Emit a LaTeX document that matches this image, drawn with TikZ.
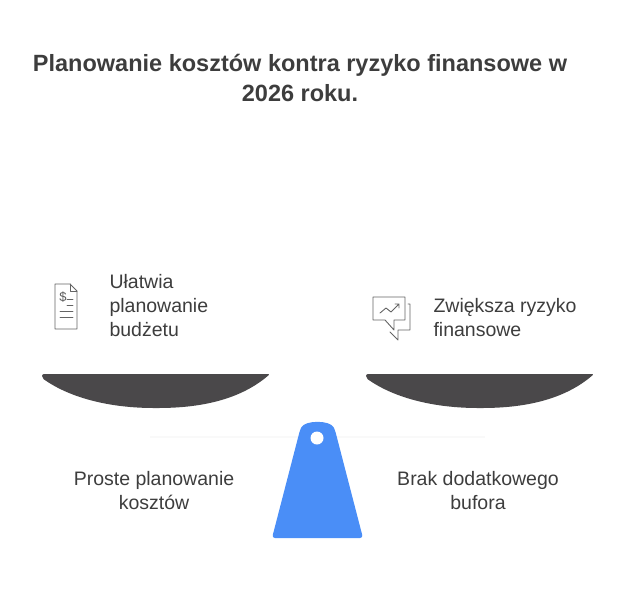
\documentclass[tikz,border=0pt]{standalone}
\usepackage{fontspec}
\setmainfont{Liberation Sans}
\definecolor{tx}{HTML}{3D3D3D}
\definecolor{bowl}{HTML}{4A484A}
\definecolor{blu}{HTML}{4A8EF7}
\begin{document}
\begin{tikzpicture}[x=1pt,y=-1pt,
  lab/.style={text=tx,font=\fontsize{19.5}{24}\selectfont,align=left,anchor=west},
  clab/.style={text=tx,font=\fontsize{19.5}{24}\selectfont,align=center},
  ico/.style={draw=tx!80,line width=0.9pt,line join=round,line cap=round}]
\useasboundingbox (0,0) rectangle (636,600);
\node[text=tx,font=\bfseries\fontsize{23.5}{30}\selectfont,align=center] (title) at (300,78)
  {Planowanie kosztów kontra ryzyko finansowe w\\2026 roku.};
% faint beam
\draw[gray!5,line width=2pt] (150,437) -- (485,437);
% bowls
\fill[bowl,rounded corners=2pt] (42,374) -- (270,374) .. controls (240,400) and (200,408) .. (156,408) .. controls (110,408) and (70,398) .. (42,378) -- cycle;
\fill[bowl,rounded corners=2pt] (366,374) -- (594,374) .. controls (564,400) and (524,408) .. (480,408) .. controls (434,408) and (394,398) .. (366,378) -- cycle;
% fulcrum
\fill[blu,rounded corners=3pt] (272,538) -- (300,430) .. controls (305,420) and (330,420) .. (335,430) -- (363,538) -- cycle;
\fill[white] (317,438) circle (6.5);
% icons
\draw[ico] (55,284) -- (70,284) -- (77,291) -- (77,329) -- (55,329) -- cycle;
\draw[ico] (70,284) -- (70,291) -- (77,291);
\node[text=tx!85,font=\fontsize{13}{13}\selectfont] (dol) at (63,297) {\$};
\draw[ico] (67,299) -- (73,299) (67,305) -- (73,305) (60,311) -- (73,311) (60,317) -- (73,317);
\draw[ico] (373,297) -- (405,297) -- (405,320) -- (394,320) -- (394,330) -- (385,320) -- (373,320) -- cycle;
\draw[ico] (380,313) -- (386,308) -- (391,312) -- (399,304) (395,304) -- (399,304) -- (399,308);
\draw[ico] (408,304) -- (410,304) -- (410,330) -- (398,330) -- (398,340) -- (390,332);
% labels
\node[lab] (l1) at (106,306) {Ułatwia\\planowanie\\budżetu};
\node[lab] (r1) at (430,318) {Zwiększa ryzyko\\finansowe};
\node[clab] (l2) at (154,491) {Proste planowanie\\kosztów};
\node[clab] (r2) at (478,491) {Brak dodatkowego\\bufora};
\end{tikzpicture}
\end{document}
